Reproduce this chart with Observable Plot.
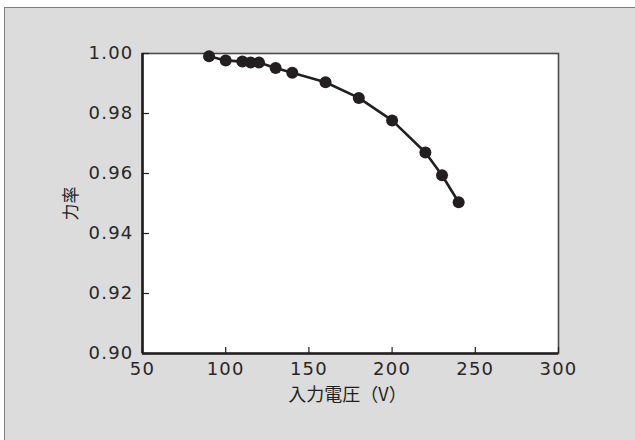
<!DOCTYPE html>
<html>
<head>
<meta charset="utf-8">
<script src="https://cdn.jsdelivr.net/npm/d3@7"></script>
<script src="https://cdn.jsdelivr.net/npm/@observablehq/plot@0.6"></script>
<style>
  html, body { margin: 0; padding: 0; background: #ffffff; overflow: hidden; width: 635px; height: 440px; }
  #box { position: absolute; left: 4px; top: 7px; width: 700px; height: 500px; background: #dcdcdc; border: 1.5px solid #7d7d7d; box-sizing: border-box; }
  #chart { position: absolute; left: 0; top: 0; }
  #chart g[aria-label="x-axis tick label"] text, #chart g[aria-label="y-axis tick label"] text { letter-spacing: 1.2px; }
</style>
</head>
<body>
<div id="box"></div>
<div id="chart"></div>
<script>
const voltage = [90, 100, 110, 115, 120, 130, 140, 160, 180, 200, 220, 230, 240];
const powerFactor = [0.9991, 0.9977, 0.9973, 0.9970, 0.9970, 0.9952, 0.9936, 0.9904, 0.9852, 0.9777, 0.9670, 0.9594, 0.9504];
const xTicks = [50, 100, 150, 200, 250, 300];
const yTicks = [0.90, 0.92, 0.94, 0.96, 0.98, 1.00];
const xTitle = "入力電圧（V）";
const yTitle = "力率";

const data = voltage.map((v, i) => ({v, pf: powerFactor[i]}));
const ink = "#231f20";
const cjk = "'Noto Sans CJK JP', sans-serif";
const num = "'DejaVu Sans', sans-serif";

const chart = Plot.plot({
  width: 635,
  height: 440,
  marginLeft: 142,
  marginRight: 77,
  marginTop: 53,
  marginBottom: 87,
  style: {background: "transparent", color: ink},
  x: {domain: [50, 300]},
  y: {domain: [0.90, 1.00]},
  marks: [
    Plot.frame({fill: "white", stroke: "#4a4a4a", strokeWidth: 1.6}),
    Plot.axisX({ticks: xTicks, tickSize: -6, text: null, stroke: ink, strokeWidth: 1.2, label: null}),
    Plot.axisY({ticks: yTicks, tickSize: -7, text: null, stroke: ink, strokeWidth: 1.2, label: null}),
    Plot.axisX({ticks: xTicks, tickSize: 0, tickPadding: 9, tickFormat: d => String(d), fill: "#2a2627",
      label: null, fontSize: 18, fontFamily: num}),
    Plot.axisY({ticks: yTicks, tickSize: 0, tickPadding: 9, tickFormat: d => d.toFixed(2), fill: "#2a2627",
      label: null, fontSize: 18, fontFamily: num}),
    Plot.text([xTitle], {frameAnchor: "bottom", dy: 42, dx: -3, lineAnchor: "middle", textAnchor: "middle",
      fontSize: 18, fontFamily: cjk, fill: ink}),
    Plot.text([yTitle], {frameAnchor: "left", dx: -71, rotate: -90, lineAnchor: "middle", textAnchor: "middle",
      fontSize: 17, fontFamily: cjk, fill: ink}),
    Plot.ruleX([50], {stroke: ink, strokeWidth: 2.6}),
    Plot.ruleY([0.90], {stroke: ink, strokeWidth: 2.6}),
    Plot.line(data, {x: "v", y: "pf", stroke: ink, strokeWidth: 2.6}),
    Plot.dot(data, {x: "v", y: "pf", r: 6, fill: ink, stroke: "none"})
  ]
});
document.getElementById("chart").appendChild(chart);
</script>
</body>
</html>
